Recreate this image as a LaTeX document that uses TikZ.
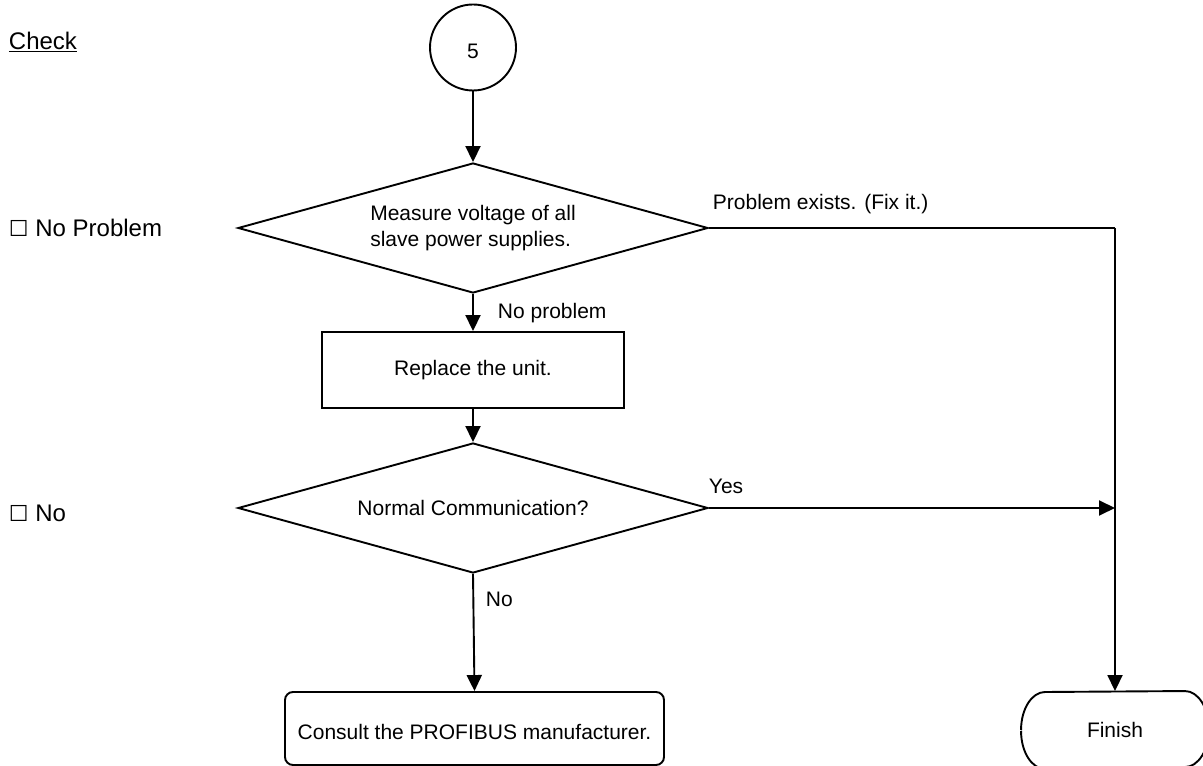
\documentclass[tikz,border=0pt]{standalone}
\usepackage{fontspec}
\setmainfont{Liberation Sans}
\newfontfamily\symfont{DejaVu Sans}
\usetikzlibrary{shapes.geometric,arrows.meta}
\begin{document}
\begin{tikzpicture}[x=1pt,y=1pt,
  line width=1.9pt,
  txt/.style={font=\fontsize{21}{26}\selectfont},
  side/.style={font=\fontsize{24}{28}\selectfont, anchor=west, inner sep=0pt},
  arr/.style={-{Triangle[length=16pt,width=15pt]}},
  dec/.style={draw, shape=diamond, aspect=3.6, inner sep=0pt, minimum width=470pt, minimum height=130pt, txt},
  box/.style={draw, rectangle, inner sep=0pt, txt},
  lbl/.style={txt, inner sep=0pt, anchor=west}]
\clip (0,0) rectangle (1203,766);
\fill[white] (0,0) rectangle (1203,766);

% side labels
\node[side] (chk) at (8,724) {\underline{Check}};
\node[side] (np) at (8,538) {{\symfont\bfseries\fontsize{22}{26}\selectfont ☐} No Problem};
\node[side] (nn) at (8,253) {{\symfont\bfseries\fontsize{22}{26}\selectfont ☐} No};

% flow nodes
\node[draw, circle, minimum size=86pt, inner sep=0pt, txt, text height=23pt, text depth=0pt] (c5) at (473,718.5) {5};
\node[dec, align=left] (d1) at (473,538) {Measure voltage of all\\slave power supplies.};
\node[box, minimum width=302pt, minimum height=76pt] (r1) at (473,396) {Replace the unit.};
\node[dec] (d2) at (473,258) {Normal Communication?};
\node[box, rounded corners=8pt, minimum width=379pt, minimum height=73pt, text height=22pt, text depth=0pt] (cons) at (474.5,37.5) {Consult the PROFIBUS manufacturer.};
\node[inner sep=0pt, minimum width=186pt, minimum height=76pt, txt] (fin) at (1115,36) {Finish};
\draw[line join=round] (fin.west)
  arc[start angle=180, end angle=90, x radius=24pt, y radius=38pt]
  -- ([xshift=-24pt]fin.north east)
  arc[start angle=90, end angle=-90, x radius=24pt, y radius=38pt]
  -- ([xshift=24pt]fin.south west)
  arc[start angle=270, end angle=180, x radius=24pt, y radius=38pt];

\coordinate (corner) at (1115,538);

% connectors
\draw[arr] (c5.south) -- (d1.north);
\draw[arr] (d1.south) -- (r1.north);
\draw[arr] (r1.south) -- (d2.north);
\draw[arr] (d2.south) -- (cons.north);
\draw (d1.east) -- (corner);
\draw[arr] (corner) -- (fin.north);
\draw[arr] (d2.east) -- (d2.east -| corner);

% connector labels
\node[lbl] (lpe) at (712,562) {Problem exists. (Fix it.)};
\node[lbl] (lnp) at (497,453) {No problem};
\node[lbl] (lyes) at (708,280) {Yes};
\node[lbl] (lno) at (485,167) {No};
\end{tikzpicture}
\end{document}
